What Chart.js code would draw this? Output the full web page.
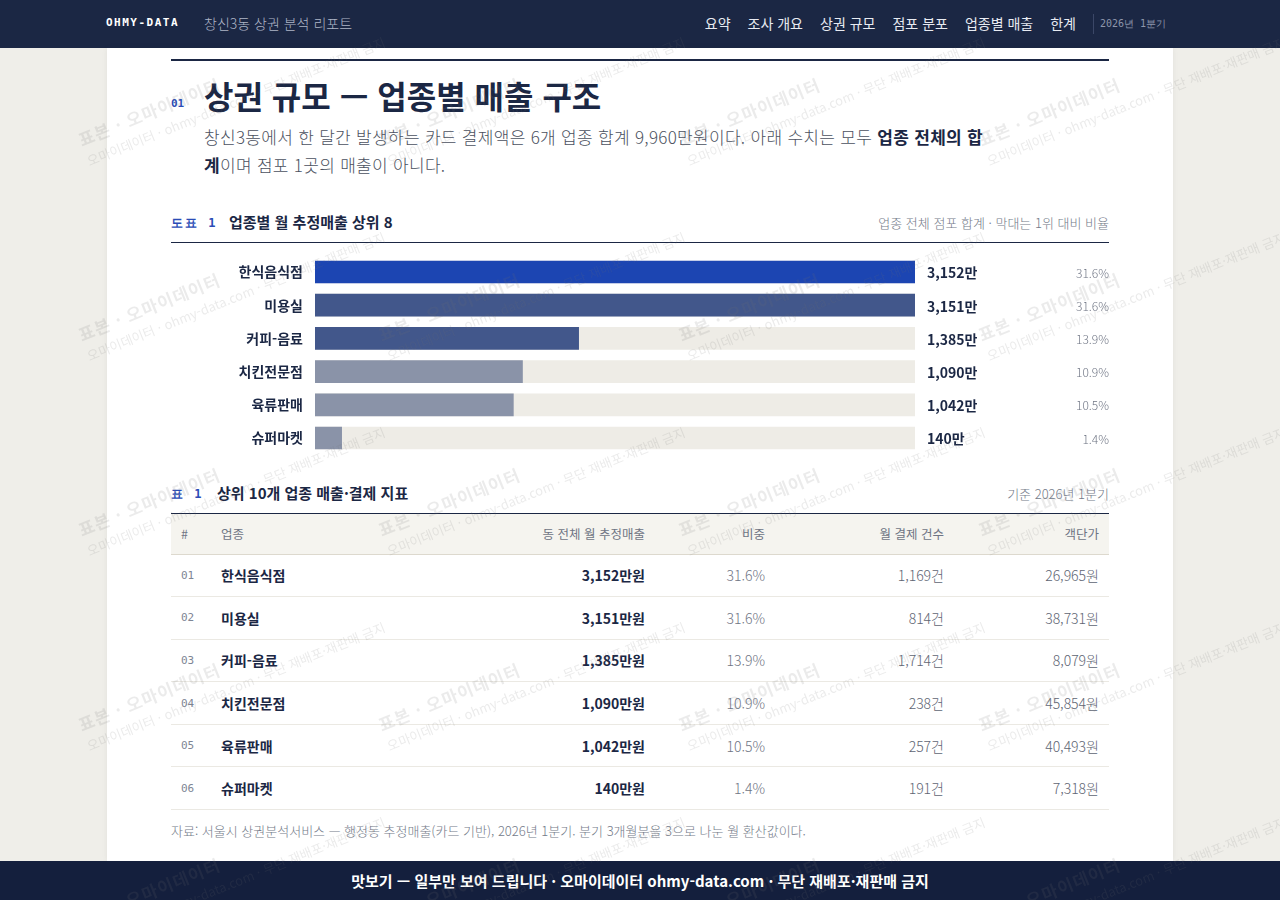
<!DOCTYPE html>
<html lang="ko">
<head>
<meta charset="utf-8">
<title>창신3동 상권 분석 리포트</title>
<script src="https://cdn.jsdelivr.net/npm/chart.js@4.4.1/dist/chart.umd.min.js"></script>
<style>
  * { box-sizing: border-box; margin: 0; padding: 0; }
  body {
    width: 1280px; height: 900px; overflow: hidden; position: relative;
    background: #efeee9;
    font-family: "Noto Sans CJK KR", "Noto Sans", sans-serif;
    color: #1b2744;
  }
  .mono { font-family: "DejaVu Sans Mono", "Liberation Mono", monospace; }
  #nav {
    position: absolute; left: 0; top: 0; width: 1280px; height: 48px;
    background: #1b2744; color: #fff;
  }
  #nav .brand { position: absolute; left: 106px; top: 16px; font-size: 11px; font-weight: bold; letter-spacing: 1.5px; }
  #nav .sub { position: absolute; left: 204px; top: 13px; font-size: 14px; color: #aeb6c7; font-weight: 300; }
  #nav ul { position: absolute; right: 204px; top: 13px; list-style: none; display: flex; gap: 17px; font-size: 14px; color: #e8ebf2; }
  #nav .div { position: absolute; left: 1093px; top: 14px; width: 1px; height: 20px; background: #3b4767; }
  #nav .qtr { position: absolute; left: 1100px; top: 17px; font-size: 10px; color: #8d96ab; }
  #panel {
    position: absolute; left: 107px; top: 48px; width: 1066px; height: 813px;
    background: #fff; box-shadow: 0 0 6px rgba(0,0,0,0.06);
  }
  .abs { position: absolute; }
  #rule { left: 171px; top: 59px; width: 938px; height: 2px; background: #1b2744; }
  #secno { left: 171px; top: 97px; font-size: 11px; color: #2b4cb6; font-weight: bold; }
  #title { left: 204px; top: 72px; font-size: 32px; font-weight: bold; line-height: 46px; }
  #lead { left: 204px; top: 123px; width: 785px; font-size: 17px; line-height: 28px; color: #4b5160; font-weight: 300; letter-spacing: 0.3px; }
  #lead b { color: #1b2744; font-weight: bold; }
  .caphead { left: 171px; width: 938px; height: 20px; }
  .caphead .tag { position: absolute; left: 0; top: 3px; font-size: 12px; color: #2b4cb6; font-weight: bold; letter-spacing: 2px; }
  .caphead .name { position: absolute; left: 58px; top: -1px; font-size: 15px; font-weight: bold; color: #1b2744; }
  .caphead .note { position: absolute; right: 0; top: 1px; font-size: 13px; color: #737a88; font-weight: 300; }
  .hline { left: 171px; width: 938px; height: 1px; background: #1b2744; }
  #chartBox { left: 171px; top: 235px; width: 938px; height: 240px; }
  table {
    position: absolute; left: 171px; top: 514px; width: 938px;
    border-collapse: collapse; font-size: 14px;
  }
  thead th {
    height: 40px; background: #f5f4ef; color: #6f7584; font-weight: normal; font-size: 12.5px;
    border-bottom: 1px solid #ddd9ce; padding: 0 10px; text-align: right;
  }
  tbody td { height: 42.6px; border-bottom: 1px solid #ebe9e3; padding: 0 10px; text-align: right; color: #6f7584; font-weight: 300; }
  th.l, td.l { text-align: left; }
  td.no { font-family: "DejaVu Sans Mono", monospace; font-size: 11px; color: #7e8594; font-weight: normal; }
  td.nm { font-weight: bold; color: #1b2744; font-size: 14px; }
  td.amt { font-weight: bold; color: #1b2744; }
  td.cnt, td.unit { color: #5e6573; }
  #src { left: 171px; top: 821px; font-size: 13px; color: #737a88; font-weight: 300; }
  #foot {
    position: absolute; left: 0; top: 861px; width: 1280px; height: 39px;
    background: #141f3d; color: #fff; font-size: 15px; font-weight: bold;
    text-align: center; line-height: 39px;
  }
  #wm { position: absolute; left: 0; top: 0; width: 1280px; height: 900px; pointer-events: none; overflow: hidden; z-index: 5; }
  #wm div {
    position: absolute; transform: rotate(-22deg); transform-origin: left top;
    color: rgba(110,110,110,0.14); white-space: nowrap; line-height: 1.3;
  }
  #wm .a { font-size: 17px; font-weight: bold; letter-spacing: 1px; }
  #wm .b { font-size: 13px; }
</style>
</head>
<body>
<div id="nav">
  <div class="brand mono">OHMY-DATA</div>
  <div class="sub">창신3동 상권 분석 리포트</div>
  <ul><li>요약</li><li>조사 개요</li><li>상권 규모</li><li>점포 분포</li><li>업종별 매출</li><li>한계</li></ul>
  <div class="div"></div>
  <div class="qtr mono">2026년 1분기</div>
</div>
<div id="panel"></div>

<div id="rule" class="abs"></div>
<div id="secno" class="abs mono">01</div>
<div id="title" class="abs">상권 규모 — 업종별 매출 구조</div>
<div id="lead" class="abs">창신3동에서 한 달간 발생하는 카드 결제액은 6개 업종 합계 9,960만원이다. 아래 수치는 모두 <b>업종 전체의 합계</b>이며 점포 1곳의 매출이 아니다.</div>

<div class="abs caphead" style="top:212px">
  <span class="tag mono">도표 1</span>
  <span class="name">업종별 월 추정매출 상위 8</span>
  <span class="note">업종 전체 점포 합계 · 막대는 1위 대비 비율</span>
</div>
<div class="abs hline" style="top:242px"></div>
<div id="chartBox" class="abs"><canvas id="salesChart" width="938" height="240"></canvas></div>

<div class="abs caphead" style="top:483px">
  <span class="tag mono">표 1</span>
  <span class="name" style="left:46px">상위 10개 업종 매출·결제 지표</span>
  <span class="note">기준 2026년 1분기</span>
</div>
<div class="abs hline" style="top:513px"></div>
<table>
  <thead>
    <tr>
      <th class="l" style="width:40px">#</th>
      <th class="l">업종</th>
      <th style="width:200px">동 전체 월 추정매출</th>
      <th style="width:120px">비중</th>
      <th style="width:179px">월 결제 건수</th>
      <th style="width:155px">객단가</th>
    </tr>
  </thead>
  <tbody id="tbody"></tbody>
</table>
<div id="src" class="abs">자료: 서울시 상권분석서비스 — 행정동 추정매출(카드 기반), 2026년 1분기. 분기 3개월분을 3으로 나눈 월 환산값이다.</div>

<div id="foot">맛보기 — 일부만 보여 드립니다 · 오마이데이터 ohmy-data.com · 무단 재배포·재판매 금지</div>
<div id="wm"></div>

<script>
// 업종별 월 추정매출 (단위: 만원)
const categories = ['한식음식점', '미용실', '커피-음료', '치킨전문점', '육류판매', '슈퍼마켓'];
const salesMan = [3152, 3151, 1385, 1090, 1042, 140];
const sharePct = [31.6, 31.6, 13.9, 10.9, 10.5, 1.4];
const payCounts = [1169, 814, 1714, 238, 257, 191];
const unitPrices = [26965, 38731, 8079, 45854, 40493, 7318];

const barColors = ['#1c45b2', '#42578b', '#42578b', '#8a93a8', '#8a93a8', '#8a93a8'];
const trackColor = '#eeece6';

const fmt = n => n.toLocaleString('en-US');
const topValue = Math.max(...salesMan);

// 막대 오른쪽 금액·비율 라벨
const sideLabels = {
    id: 'sideLabels',
    afterDatasetsDraw(chart) {
        const ctx = chart.ctx;
        const meta = chart.getDatasetMeta(0);
        const right = chart.chartArea.right;
        ctx.save();
        ctx.textBaseline = 'middle';
        meta.data.forEach((bar, i) => {
            ctx.font = 'bold 14px "Noto Sans CJK KR"';
            ctx.fillStyle = '#1b2744';
            ctx.textAlign = 'left';
            ctx.fillText(fmt(salesMan[i]) + '만', right + 12, bar.y + 1);
            ctx.font = '300 12px "Noto Sans CJK KR"';
            ctx.fillStyle = '#6f7584';
            ctx.textAlign = 'right';
            ctx.fillText(sharePct[i].toFixed(1) + '%', chart.width, bar.y + 1);
        });
        ctx.restore();
    }
};

const ctxSales = document.getElementById('salesChart').getContext('2d');
new Chart(ctxSales, {
    type: 'bar',
    data: {
        labels: categories,
        datasets: [
            {
                label: '월 추정매출',
                data: salesMan,
                backgroundColor: barColors,
                barThickness: 22,
                grouped: false,
                order: 0
            },
            {
                label: 'track',
                data: categories.map(() => topValue),
                backgroundColor: trackColor,
                barThickness: 22,
                grouped: false,
                order: 1
            }
        ]
    },
    options: {
        indexAxis: 'y',
        responsive: false,
        animation: false,
        layout: { padding: { right: 194, top: 0, bottom: 0, left: 0 } },
        scales: {
            x: { display: false, min: 0, max: topValue },
            y: {
                grid: { display: false, drawTicks: false },
                border: { display: false },
                afterFit: (scale) => { scale.width = 144; },
                ticks: {
                    padding: 12,
                    color: '#1b2744',
                    font: { family: 'Noto Sans CJK KR', size: 14, weight: 'bold' }
                }
            }
        },
        plugins: {
            legend: { display: false },
            tooltip: { enabled: false }
        }
    },
    plugins: [sideLabels]
});

// 표 1
const tbody = document.getElementById('tbody');
categories.forEach((name, i) => {
    const tr = document.createElement('tr');
    tr.innerHTML =
        `<td class="l no">${String(i + 1).padStart(2, '0')}</td>` +
        `<td class="l nm">${name}</td>` +
        `<td class="amt">${fmt(salesMan[i])}만원</td>` +
        `<td>${sharePct[i].toFixed(1)}%</td>` +
        `<td class="cnt">${fmt(payCounts[i])}건</td>` +
        `<td class="unit">${fmt(unitPrices[i])}원</td>`;
    tbody.appendChild(tr);
});

// 워터마크
const wm = document.getElementById('wm');
for (let row = 0; row < 5; row++) {
    for (let col = 0; col < 4; col++) {
        const d = document.createElement('div');
        d.style.left = (75 + col * 300) + 'px';
        d.style.top = (130 + row * 195) + 'px';
        d.innerHTML = '<span class="a">표본 · 오마이데이터</span><br><span class="b">오마이데이터 · ohmy-data.com · 무단 재배포·재판매 금지</span>';
        wm.appendChild(d);
    }
}
</script>
</body>
</html>
